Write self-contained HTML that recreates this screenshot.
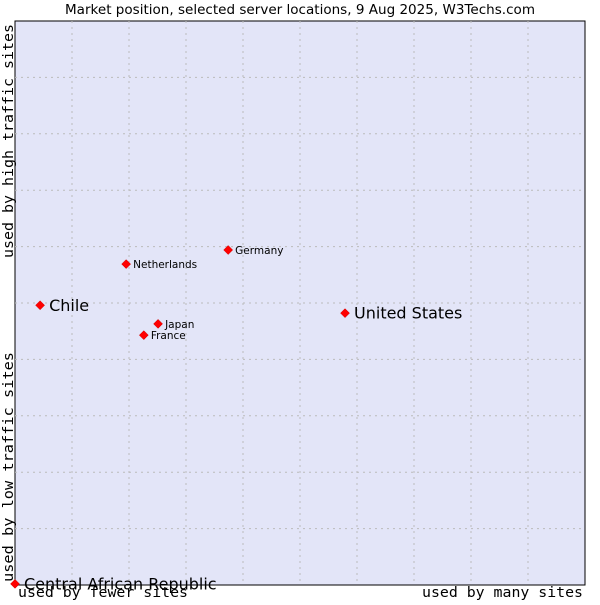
<!DOCTYPE html>
<html><head><meta charset="utf-8"><style>
body{margin:0;width:600px;height:600px;background:#fff;overflow:hidden}
svg text{font-family:"DejaVu Sans","Liberation Sans",sans-serif}
.mono{font-family:"DejaVu Sans Mono","Liberation Mono",monospace}
</style></head><body>
<svg width="600" height="600" xmlns="http://www.w3.org/2000/svg">
<text x="65" y="14" font-size="13" textLength="470" lengthAdjust="spacingAndGlyphs">Market position, selected server locations, 9 Aug 2025, W3Techs.com</text>
<rect x="15" y="21" width="570" height="564" fill="#e3e5f8" stroke="#000" stroke-width="1"/>
<g id="grid"></g>
<g id="points"></g>
<text class="mono" x="18" y="597" font-size="14" textLength="170" lengthAdjust="spacingAndGlyphs">used by fewer sites</text>
<text class="mono" x="422" y="597" font-size="14" textLength="161" lengthAdjust="spacingAndGlyphs">used by many sites</text>
<text class="mono" transform="translate(13,582) rotate(-90)" font-size="14" textLength="230" lengthAdjust="spacingAndGlyphs">used by low traffic sites</text>
<text class="mono" transform="translate(13,258) rotate(-90)" font-size="14" textLength="234" lengthAdjust="spacingAndGlyphs">used by high traffic sites</text>
</svg>
<script>
const names=["Central African Republic","Chile","United States","Germany","Netherlands","Japan","France"];
const xs=[0,4.4,57.9,37.4,19.5,25.1,22.6];
const ys=[0.2,49.6,48.2,59.4,56.9,46.3,44.3];
const big=[true,true,true,false,false,false,false];
const L=15,T=21,W=570,H=564;
const sx=v=>L+v/100*W, sy=v=>T+H-v/100*H;
const ns="http://www.w3.org/2000/svg";
const g=document.getElementById('grid'),p=document.getElementById('points');
for(let i=1;i<10;i++){
 const v=document.createElementNS(ns,'line');
 
 
 v.setAttribute('x1',sx(i*10));v.setAttribute('x2',sx(i*10));v.setAttribute('y1',T);v.setAttribute('y2',T+H);
 v.setAttribute('stroke','#bbb');v.setAttribute('stroke-dasharray','2,4');g.appendChild(v);
 const h=document.createElementNS(ns,'line');
 
 
 h.setAttribute('y1',sy(i*10));h.setAttribute('y2',sy(i*10));h.setAttribute('x1',L);h.setAttribute('x2',L+W);
 h.setAttribute('stroke','#bbb');h.setAttribute('stroke-dasharray','2,4');g.appendChild(h);
}
names.forEach((n,i)=>{
 const x=sx(xs[i]),y=sy(ys[i]);
 const d=document.createElementNS(ns,'path');
 
 
 d.setAttribute('d',`M${x} ${y-4.5}L${x+4.5} ${y}L${x} ${y+4.5}L${x-4.5} ${y}Z`);
 d.setAttribute('fill','#f00');d.setAttribute('stroke','#c00');d.setAttribute('stroke-width','0.5');p.appendChild(d);
 const t=document.createElementNS(ns,'text');
 
 
 t.setAttribute('x',x+(big[i]?9:7));t.setAttribute('y',y+(big[i]?5.5:4));
 t.setAttribute('font-size',big[i]?'16':'10.5');t.textContent=n;p.appendChild(t);
});
</script>
</body></html>
